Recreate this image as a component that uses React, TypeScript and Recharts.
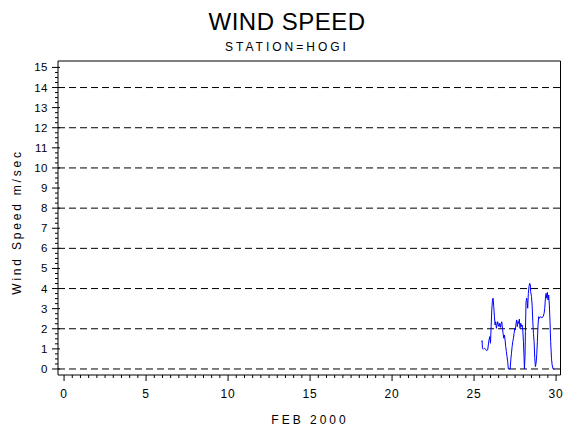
import { LineChart, Line, XAxis, YAxis, ReferenceLine, ReferenceArea } from 'recharts';

// hourly-ish readings, FEB 2000, station HOGI
const days = [
  25.47, 25.49, 25.51, 25.57, 25.63, 25.71, 25.77, 25.83, 25.91, 25.96,
  26.0, 26.04, 26.08, 26.12, 26.16, 26.2, 26.24, 26.28, 26.32, 26.36,
  26.4, 26.44, 26.48, 26.52, 26.56, 26.61, 26.65, 26.69, 26.73, 26.77,
  26.81, 26.85, 26.89, 26.93, 26.97, 27.01, 27.05, 27.09, 27.2, 27.24,
  27.28, 27.32, 27.36, 27.4, 27.44, 27.48, 27.52, 27.56, 27.6, 27.64,
  27.68, 27.72, 27.76, 27.8, 27.85, 27.89, 27.93, 27.97, 28.01, 28.05,
  28.07, 28.11, 28.13, 28.17, 28.21, 28.25, 28.27, 28.31, 28.35, 28.39,
  28.43, 28.45, 28.5, 28.54, 28.58, 28.62, 28.66, 28.7, 28.74, 28.78,
  28.82, 28.86, 28.9, 28.94, 28.98, 29.04, 29.13, 29.21, 29.27, 29.31,
  29.35, 29.39, 29.43, 29.47, 29.51, 29.55, 29.59, 29.63, 29.67, 29.72,
  29.76, 29.82, 29.9,
];
const speeds = [
  1.36, 1.41, 1.03, 0.98, 1.03, 0.98, 0.91, 0.95, 1.44, 1.61,
  1.28, 2.11, 2.94, 3.43, 3.52, 3.1, 2.6, 2.19, 2.35, 2.02,
  2.19, 2.35, 2.19, 2.11, 2.27, 2.07, 2.27, 2.35, 2.02, 1.77,
  1.53, 1.69, 1.44, 1.11, 0.86, 0.61, 0.36, 0, 0, 0.45,
  0.78, 1.11, 1.36, 1.53, 1.77, 2.02, 1.94, 2.27, 2.44, 2.11,
  2.35, 2.27, 2.48, 2.02, 2.27, 2.11, 2.19, 1.94, 1.36, 0.53,
  0, 0.7, 1.86, 3.35, 3.52, 3.27, 3.02, 3.76, 4.1, 4.26,
  4.18, 3.85, 3.6, 3.18, 2.35, 1.77, 1.36, 0.53, 0.12, 0.28,
  0.7, 1.36, 2.19, 2.6, 2.52, 2.6, 2.55, 2.6, 2.77, 3.02,
  3.52, 3.76, 3.52, 3.81, 3.43, 3.68, 3.18, 2.35, 1.36, 0.53,
  0.2, 0, 0,
];

const xLabelTicks = [0, 5, 10, 15, 20, 25, 30];
const yLabelTicks = [0, 1, 2, 3, 4, 5, 6, 7, 8, 9, 10, 11, 12, 13, 14, 15];
const gridLines = [0, 2, 4, 6, 8, 10, 12, 14];

// minor tick positions (half days / quarter units)
const xTicks = Array.from({ length: 61 }, (_, i) => i / 2);
const yTicks = Array.from({ length: 61 }, (_, i) => i / 4);

const data = days.map((d, i) => ({ day: d, speed: speeds[i] }));

const X_DOMAIN: [number, number] = [-0.37, 30.27];
const Y_DOMAIN: [number, number] = [-0.3, 15.32];

const FONT = '"Liberation Sans", Arial, sans-serif';

function XTick(props: any) {
  const { x, y, payload } = props;
  const major = xLabelTicks.includes(payload.value);
  return (
    <g>
      <line x1={x} x2={x} y1={y} y2={y + (major ? 6 : 3)} stroke="#000" />
      {major && (
        <text x={x} y={y + 23} textAnchor="middle" fontSize={12} fontFamily={FONT} fill="#000" letterSpacing={1}>
          {payload.value}
        </text>
      )}
    </g>
  );
}

function YTick(props: any) {
  const { x, y, payload } = props;
  const major = yLabelTicks.includes(payload.value);
  return (
    <g>
      <line x1={major ? x - 6 : x - 3} x2={major ? x + 2 : x} y1={y} y2={y} stroke="#000" />
      {major && (
        <text x={x - 10} y={y + 4} textAnchor="end" fontSize={11.5} fontFamily={FONT} fill="#000" letterSpacing={0.5}>
          {payload.value}
        </text>
      )}
    </g>
  );
}

export default function App() {
  return (
    <div style={{ position: 'absolute', left: 0, top: 0, width: 570, height: 430, background: '#fff' }}>
      <LineChart width={570} height={430} data={data} margin={{ top: 61, right: 9.5, bottom: 10, left: 10 }}>
        <XAxis
          dataKey="day"
          type="number"
          domain={X_DOMAIN}
          ticks={xTicks}
          interval={0}
          tick={<XTick />}
          tickLine={false}
          axisLine={false}
          tickSize={0}
          tickMargin={0}
          height={45}
          allowDataOverflow
        />
        <YAxis
          type="number"
          domain={Y_DOMAIN}
          ticks={yTicks}
          interval={0}
          tick={<YTick />}
          tickLine={false}
          axisLine={false}
          tickSize={0}
          tickMargin={0}
          width={48}
          allowDataOverflow
        />
        {gridLines.map((v) => (
          <ReferenceLine key={v} y={v} stroke="#000" strokeDasharray="7 4" />
        ))}
        <ReferenceArea
          x1={X_DOMAIN[0]}
          x2={X_DOMAIN[1]}
          y1={Y_DOMAIN[0]}
          y2={Y_DOMAIN[1]}
          fill="none"
          fillOpacity={0}
          stroke="#000"
          strokeWidth={1}
        />
        <Line
          type="linear"
          dataKey="speed"
          stroke="#0000ff"
          strokeWidth={1}
          dot={false}
          isAnimationActive={false}
        />
      </LineChart>
      <svg width={570} height={430} style={{ position: 'absolute', left: 0, top: 0, pointerEvents: 'none' }}>
        <text x={287} y={30} textAnchor="middle" fontSize={24} fontFamily={FONT} letterSpacing={0.5}>
          WIND SPEED
        </text>
        <text x={287} y={51} textAnchor="middle" fontSize={12} fontFamily={FONT} letterSpacing={3}>
          STATION=HOGI
        </text>
        <text x={310} y={424} textAnchor="middle" fontSize={12} fontFamily={FONT} letterSpacing={3}>
          FEB 2000
        </text>
        <text
          x={0}
          y={0}
          transform="translate(21,222) rotate(-90)"
          textAnchor="middle"
          fontSize={12}
          fontFamily={FONT}
          letterSpacing={2.8}
        >
          Wind Speed m/sec
        </text>
      </svg>
    </div>
  );
}
